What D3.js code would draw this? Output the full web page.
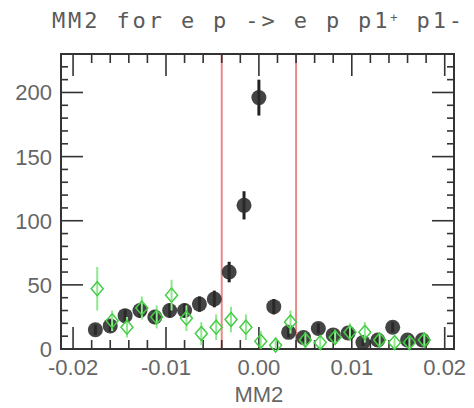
<!DOCTYPE html>
<html>
<head>
<meta charset="utf-8">
<script src="https://cdn.jsdelivr.net/npm/d3@7"></script>
<style>
  body { margin: 0; background: #fff; }
  svg { display: block; }
  text { font-family: "Liberation Sans", Arial, sans-serif; }
</style>
</head>
<body>
<div id="chart"></div>
<script>
// MM2 pour e p -> e p pi+ pi-

// centres des bins (MM2)
const binCenters = [-0.0176, -0.0160, -0.0144, -0.0128, -0.0112, -0.0096, -0.0080, -0.0064,
    -0.0048, -0.0032, -0.0016, 0.0000, 0.0016, 0.0032, 0.0048, 0.0064, 0.0080, 0.0096,
    0.0112, 0.0128, 0.0144, 0.0160, 0.0176];

// données (noir)
const dataCounts = [15, 18, 26, 30, 25, 30, 30, 35, 39, 60, 112, 196, 33, 13, 9, 16, 11, 12.5, 5, 7, 17, 7, 7];
const dataErrors = [4, 4.5, 5, 5.5, 5, 5.5, 5.5, 6, 6.5, 8, 11, 14, 6, 4, 3, 4, 3.5, 3.5, 2.5, 3, 4, 3, 3];

// simulation (vert)
const simOffset = 0.0002;
const simCounts = [47, 22, 17, 32, 25, 42, 24, 12, 17, 23, 17, 6, 3, 21, 7, 5, 9, 13, 13, 7, 5, 5, 7];
const simErrors = [17, 8, 8, 9, 9, 12, 10, 9, 10, 10, 10, 8, 6, 9, 6, 5, 6, 7, 8, 6, 4, 4, 5];

// coupures
const cuts = [-0.004, 0.004];

const xTicks = [-0.02, -0.01, 0.00, 0.01, 0.02];
const yTicks = [0, 50, 100, 150, 200];

const width = 474;
const height = 408;
const margin = { top: 54, right: 20, bottom: 59, left: 61 };

const svg = d3.select('#chart')
    .append('svg')
    .attr('width', width)
    .attr('height', height);

const x = d3.scaleLinear()
    .domain([-0.0213, 0.0210])
    .range([margin.left, width - margin.right]);

const y = d3.scaleLinear()
    .domain([0, 230])
    .range([height - margin.bottom, margin.top]);

const x0 = margin.left, x1 = width - margin.right;
const y0 = height - margin.bottom, y1 = margin.top;

// Titre
const title = svg.append('text')
    .attr('x', 52)
    .attr('y', 28)
    .attr('textLength', 410)
    .attr('lengthAdjust', 'spacing')
    .style('font-family', '"DejaVu Sans Mono", monospace')
    .style('font-size', '22px')
    .style('fill', '#5a5a5a');
title.append('tspan').text('MM2 for e p -> e p p1');
title.append('tspan').attr('dy', -6).style('font-size', '12px').text('+');
title.append('tspan').attr('dy', 6).text(' p1-');

// Lignes de coupure
svg.selectAll('.cut')
    .data(cuts)
    .enter()
    .append('line')
    .attr('class', 'cut')
    .attr('x1', d => x(d))
    .attr('x2', d => x(d))
    .attr('y1', y1)
    .attr('y2', y0)
    .style('stroke', '#e98a8a')
    .style('stroke-width', 2);

// Axes (ticks vers l'intérieur)
const minorX = d3.range(-20, 21, 2).map(d => d / 1000);
const minorY = d3.range(0, 231, 10);

const axisColor = '#333';
const tickG = svg.append('g').style('stroke', axisColor).style('stroke-width', 1.6);

minorX.forEach(v => {
    const major = Math.abs(v * 100 - Math.round(v * 100)) < 1e-6;
    const len = major ? 22 : 9;
    tickG.append('line').attr('x1', x(v)).attr('x2', x(v)).attr('y1', y0).attr('y2', y0 - len);
    tickG.append('line').attr('x1', x(v)).attr('x2', x(v)).attr('y1', y1).attr('y2', y1 + len);
});

minorY.forEach(v => {
    const major = v % 50 === 0;
    const len = major ? 22 : 7;
    tickG.append('line').attr('x1', x0).attr('x2', x0 + len).attr('y1', y(v)).attr('y2', y(v));
    tickG.append('line').attr('x1', x1).attr('x2', x1 - len).attr('y1', y(v)).attr('y2', y(v));
});

svg.append('rect')
    .attr('x', x0)
    .attr('y', y1)
    .attr('width', x1 - x0)
    .attr('height', y0 - y1)
    .style('fill', 'none')
    .style('stroke', axisColor)
    .style('stroke-width', 2);

// Labels des ticks
svg.selectAll('.xlab')
    .data(xTicks)
    .enter()
    .append('text')
    .attr('class', 'xlab')
    .attr('x', d => x(d))
    .attr('y', 375)
    .style('text-anchor', 'middle')
    .style('font-size', '22px')
    .style('fill', '#666')
    .text(d => d3.format('.2f')(d).replace('−', '-'));

svg.selectAll('.ylab')
    .data(yTicks)
    .enter()
    .append('text')
    .attr('class', 'ylab')
    .attr('x', 52)
    .attr('y', d => y(d))
    .attr('dy', '0.36em')
    .style('text-anchor', 'end')
    .style('font-size', '22px')
    .style('fill', '#666')
    .text(d => d);

// Titre de l'axe x
svg.append('text')
    .attr('x', x(0))
    .attr('y', 402)
    .style('text-anchor', 'middle')
    .style('font-size', '22px')
    .style('fill', '#666')
    .text('MM2');

// Données noires
const dataPts = binCenters.map((c, i) => ({ x: c, v: dataCounts[i], e: dataErrors[i] }));
const simPts = binCenters.map((c, i) => ({ x: c + simOffset, v: simCounts[i], e: simErrors[i] }));

const dataG = svg.append('g');
dataG.selectAll('line')
    .data(dataPts)
    .enter()
    .append('line')
    .attr('x1', d => x(d.x))
    .attr('x2', d => x(d.x))
    .attr('y1', d => y(d.v - d.e))
    .attr('y2', d => y(d.v + d.e))
    .style('stroke', '#222')
    .style('stroke-width', 3);

dataG.selectAll('circle')
    .data(dataPts)
    .enter()
    .append('circle')
    .attr('cx', d => x(d.x))
    .attr('cy', d => y(d.v))
    .attr('r', 7.5)
    .style('fill', '#2a2a2a')
    .style('opacity', 0.88);

// Simulation verte
const simG = svg.append('g');
simG.selectAll('line')
    .data(simPts)
    .enter()
    .append('line')
    .attr('x1', d => x(d.x))
    .attr('x2', d => x(d.x))
    .attr('y1', d => y(Math.max(0, d.v - d.e)))
    .attr('y2', d => y(d.v + d.e))
    .style('stroke', '#8ee88e')
    .style('stroke-width', 2);

simG.selectAll('path')
    .data(simPts)
    .enter()
    .append('path')
    .attr('transform', d => `translate(${x(d.x)},${y(d.v)})`)
    .attr('d', 'M0,-7L6,0L0,7L-6,0Z')
    .style('fill', 'none')
    .style('stroke', '#44cc44')
    .style('stroke-width', 1.5);
</script>
</body>
</html>
